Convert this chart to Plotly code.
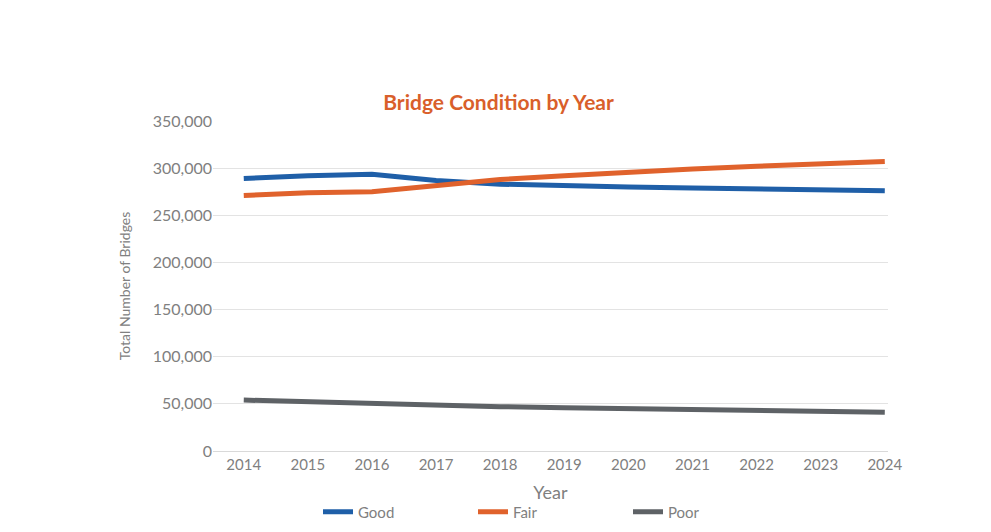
import plotly.graph_objects as go

years = [2014, 2015, 2016, 2017, 2018, 2019, 2020, 2021, 2022, 2023, 2024]
good = [289000, 292000, 293500, 287000, 283000, 281000, 280000, 279000, 278000, 277000, 276000]
fair = [271000, 274000, 275000, 281000, 288000, 292000, 296000, 299000, 302000, 305000, 307000]
poor = [54000, 52000, 50000, 48500, 47000, 46000, 45000, 44000, 43000, 42000, 41000]

fig = go.Figure()
fig.add_trace(go.Scatter(x=years, y=good, name="Good", mode="lines", line=dict(color="#1f5fa8", width=5)))
fig.add_trace(go.Scatter(x=years, y=fair, name="Fair", mode="lines", line=dict(color="#e0622c", width=5)))
fig.add_trace(go.Scatter(x=years, y=poor, name="Poor", mode="lines", line=dict(color="#5e6266", width=5)))

fig.update_layout(
    width=991, height=532,
    paper_bgcolor="white", plot_bgcolor="white",
    font=dict(family="Lato", color="#808080", size=15),
    title=dict(text="<b>Bridge Condition by Year</b>", x=0.495, y=0.835, xanchor="center",
               font=dict(family="Lato", size=21, color="#d95f2b")),
    margin=dict(l=205, r=111, t=113, b=79),
    showlegend=True,
    legend=dict(orientation="h", x=0.5, xanchor="center", y=-0.135, yanchor="top",
                font=dict(size=15, color="#808080"), itemwidth=30, entrywidth=110),
    xaxis=dict(title=dict(text="Year", standoff=14), range=[2013.52, 2024.05], tickmode="array",
               tickvals=years, ticktext=[str(y) for y in years], showgrid=False, automargin=False,
               showline=True, linecolor="#d9d9d9", ticks="", zeroline=False),
    yaxis=dict(title=dict(text="Total Number of Bridges", font=dict(size=14), standoff=18),
               range=[0, 350000], automargin=False,
               dtick=50000, tickformat=",", gridcolor="#e3e3e3", zeroline=False, ticks="",
               tickfont=dict(size=16)),
)

fig.write_html("out.html")
